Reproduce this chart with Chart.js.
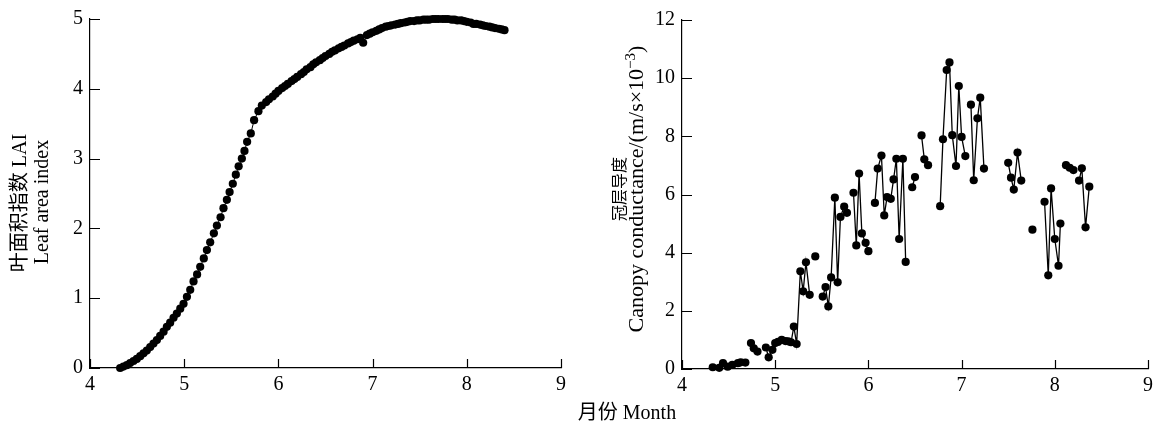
<!DOCTYPE html>
<html>
<head>
<meta charset="utf-8">
<script src="https://cdn.jsdelivr.net/npm/chart.js@4.4.1/dist/chart.umd.min.js"></script>
<style>
  html, body { margin: 0; padding: 0; background: #fff; }
  #wrap { position: relative; width: 1158px; height: 427px; overflow: hidden; }
  #laiChart { position: absolute; left: 0; top: 0; }
  #condChart { position: absolute; left: 590px; top: 0; }
  #monthTitle {
    position: absolute; left: 527px; top: 396px; width: 200px; text-align: center;
    font: 20px 'Liberation Serif', 'Noto Sans CJK SC', serif; color: #000;
  }
</style>
</head>
<body>
<div id="wrap">
  <canvas id="laiChart" width="590" height="427"></canvas>
  <canvas id="condChart" width="568" height="427"></canvas>
  <div id="monthTitle">月份 Month</div>
</div>
<script>
// x axis ticks (month), shared by both panels
const monthTicks = [4, 5, 6, 7, 8, 9];
const laiTicks = [0, 1, 2, 3, 4, 5];
const condTicks = [0, 2, 4, 6, 8, 10, 12];

// leaf area index, daily
const laiMonth = [
  4.32, 4.355, 4.391, 4.426, 4.462, 4.497, 4.533, 4.568, 4.603, 4.639,
  4.674, 4.71, 4.745, 4.781, 4.816, 4.851, 4.887, 4.922, 4.958, 4.993,
  5.029, 5.064, 5.099, 5.137, 5.17, 5.208, 5.241, 5.276, 5.315, 5.347,
  5.386, 5.417, 5.453, 5.482, 5.516, 5.548, 5.578, 5.612, 5.64, 5.668,
  5.707, 5.742, 5.788, 5.824,
  5.87, 5.90, 5.94, 5.97, 6.00, 6.04, 6.07, 6.10, 6.14, 6.17,
  6.20, 6.24, 6.27, 6.30, 6.34, 6.37, 6.40, 6.44, 6.47, 6.50,
  6.54, 6.57, 6.60, 6.64, 6.67, 6.70, 6.74, 6.77, 6.80, 6.84,
  6.87, 6.90, 6.94, 6.97, 7.00, 7.04, 7.07, 7.10, 7.14, 7.17,
  7.20, 7.24, 7.27, 7.30, 7.34, 7.37, 7.40, 7.44, 7.47, 7.50,
  7.54, 7.57, 7.60, 7.64, 7.67, 7.70, 7.74, 7.77, 7.80, 7.84,
  7.87, 7.90, 7.94, 7.97, 8.00, 8.04, 8.07, 8.10, 8.14, 8.17,
  8.20, 8.24, 8.27, 8.30, 8.34, 8.37, 8.40
];
const laiValue = [
  0.00, 0.02, 0.04, 0.07, 0.10, 0.13, 0.17, 0.21, 0.25, 0.30,
  0.35, 0.40, 0.46, 0.52, 0.59, 0.65, 0.72, 0.78, 0.85, 0.92,
  1.02, 1.12, 1.24, 1.34, 1.45, 1.57, 1.69, 1.80, 1.93, 2.04,
  2.16, 2.29, 2.41, 2.52, 2.64, 2.77, 2.89, 3.00, 3.11, 3.24,
  3.36, 3.55, 3.68, 3.76,
  3.81, 3.85, 3.89, 3.93, 3.97, 4.01, 4.04, 4.07, 4.11, 4.14,
  4.17, 4.21, 4.24, 4.28, 4.31, 4.35, 4.38, 4.41, 4.44, 4.47,
  4.50, 4.53, 4.55, 4.58, 4.60, 4.62, 4.65, 4.67, 4.69, 4.71,
  4.73, 4.66, 4.77, 4.79, 4.81, 4.83, 4.85, 4.87, 4.89, 4.90,
  4.91, 4.92, 4.93, 4.94, 4.95, 4.96, 4.97, 4.97, 4.98, 4.98,
  4.99, 4.99, 4.99, 5.00, 5.00, 5.00, 5.00, 5.00, 5.00, 4.99,
  4.99, 4.98, 4.98, 4.97, 4.96, 4.95, 4.93, 4.93, 4.92, 4.91,
  4.90, 4.89, 4.88, 4.87, 4.86, 4.85, 4.84
];

// canopy conductance (m/s x 10^-3); each inner array is a run of consecutive days
const condMonth = [
  [4.33, 4.40, 4.44, 4.49, 4.54, 4.60, 4.63, 4.68],
  [4.74, 4.77, 4.81],
  [4.90, 4.93, 4.97, 5.00, 5.03, 5.07, 5.11, 5.14, 5.17, 5.20, 5.23, 5.27, 5.30, 5.33, 5.37],
  [5.43],
  [5.51, 5.54, 5.57, 5.60, 5.64, 5.67, 5.70, 5.74, 5.77],
  [5.84, 5.87, 5.90, 5.93, 5.97, 6.00],
  [6.07, 6.10, 6.14, 6.17, 6.20, 6.24, 6.27, 6.30, 6.33, 6.37, 6.40],
  [6.47, 6.50],
  [6.57, 6.60, 6.64],
  [6.77, 6.80, 6.84, 6.87, 6.90, 6.94, 6.97, 7.00, 7.04],
  [7.10, 7.13, 7.17, 7.20, 7.24],
  [7.50, 7.53, 7.56, 7.60, 7.64],
  [7.76],
  [7.89, 7.93, 7.96, 8.00, 8.04, 8.06],
  [8.12, 8.16, 8.20],
  [8.26, 8.29, 8.33, 8.37]
];
const condValue = [
  [0.06, 0.04, 0.20, 0.08, 0.14, 0.20, 0.23, 0.22],
  [0.89, 0.71, 0.60],
  [0.74, 0.40, 0.66, 0.89, 0.93, 1.00, 0.96, 0.95, 0.92, 1.46, 0.86, 3.36, 2.67, 3.67, 2.55],
  [3.87],
  [2.49, 2.82, 2.15, 3.15, 5.89, 2.98, 5.23, 5.58, 5.37],
  [6.06, 4.25, 6.72, 4.66, 4.34, 4.05],
  [5.71, 6.89, 7.34, 5.28, 5.91, 5.85, 6.52, 7.23, 4.47, 7.23, 3.68],
  [6.25, 6.60],
  [8.03, 7.21, 7.01],
  [5.60, 7.90, 10.28, 10.54, 8.04, 6.98, 9.73, 7.98, 7.32],
  [9.09, 6.49, 8.62, 9.33, 6.89],
  [7.09, 6.58, 6.17, 7.44, 6.48],
  [4.79],
  [5.75, 3.22, 6.21, 4.47, 3.55, 5.00],
  [7.01, 6.92, 6.84],
  [6.48, 6.90, 4.87, 6.27]
];

const FAMILY = "'Liberation Serif', 'Noto Sans CJK SC', serif";
Chart.defaults.font.family = FAMILY;
Chart.defaults.color = '#000';

// tick marks pointing into the plot area
const inwardTicks = {
  id: 'inwardTicks',
  beforeDatasetsDraw(chart) {
    const { ctx, chartArea, scales } = chart;
    ctx.save();
    ctx.strokeStyle = '#000';
    ctx.lineWidth = 1.2;
    ctx.beginPath();
    scales.x.ticks.forEach(t => {
      const px = Math.round(scales.x.getPixelForValue(t.value)) + 0.5;
      ctx.moveTo(px, chartArea.bottom);
      ctx.lineTo(px, chartArea.bottom - 9);
    });
    scales.y.ticks.forEach(t => {
      const py = Math.round(scales.y.getPixelForValue(t.value)) + 0.5;
      ctx.moveTo(chartArea.left, py);
      ctx.lineTo(chartArea.left + 10, py);
    });
    ctx.stroke();
    ctx.restore();
  }
};

// rotated y-axis title, parts = [{text, size, rise}]
function drawVertical(ctx, parts, cx, cy) {
  ctx.save();
  ctx.translate(cx, cy);
  ctx.rotate(-Math.PI / 2);
  ctx.fillStyle = '#000';
  ctx.textBaseline = 'middle';
  ctx.textAlign = 'left';
  let total = 0;
  parts.forEach(p => {
    ctx.font = p.size + 'px ' + FAMILY;
    p.w = ctx.measureText(p.text).width;
    total += p.w;
  });
  let x = -total / 2;
  parts.forEach(p => {
    ctx.font = p.size + 'px ' + FAMILY;
    ctx.fillText(p.text, x, -(p.rise || 0));
    x += p.w;
  });
  ctx.restore();
}

function axisTitles(id, lines) {
  return {
    id: id,
    afterDraw(chart) {
      lines.forEach(l => drawVertical(chart.ctx, l.parts, l.x, l.y));
    }
  };
}

function scaleOpts(min, max, tickList, fitWidth, fitHeight) {
  return {
    x: {
      type: 'linear', min: 4, max: 9,
      afterBuildTicks: s => { s.ticks = monthTicks.map(v => ({ value: v })); },
      afterFit: s => { s.height = fitHeight; },
      grid: { display: false, drawTicks: false },
      border: { display: true, color: '#000', width: 1.2 },
      ticks: { font: { size: 20 }, padding: 5, color: '#000' }
    },
    y: {
      type: 'linear', min: min, max: max,
      afterBuildTicks: s => { s.ticks = tickList.map(v => ({ value: v })); },
      afterFit: s => { s.width = fitWidth; },
      grid: { display: false, drawTicks: false },
      border: { display: true, color: '#000', width: 1.2 },
      ticks: { font: { size: 20 }, padding: 7, color: '#000' }
    }
  };
}

const laiPoints = laiMonth.map((m, i) => ({ x: m, y: laiValue[i] }));

new Chart(document.getElementById('laiChart'), {
  type: 'line',
  data: {
    datasets: [{
      data: laiPoints,
      borderColor: '#000',
      borderWidth: 1,
      pointRadius: 4.1,
      pointBorderWidth: 0,
      pointBackgroundColor: '#000',
      clip: false
    }]
  },
  options: {
    responsive: false,
    animation: false,
    layout: { padding: { left: 0, right: 29, top: 18, bottom: 0 } },
    plugins: { legend: { display: false }, tooltip: { enabled: false } },
    scales: scaleOpts(0, 5, laiTicks, 90, 59)
  },
  plugins: [inwardTicks, axisTitles('laiTitle', [
    { x: 21, y: 203, parts: [{ text: '叶面积指数 LAI', size: 20 }] },
    { x: 43, y: 202, parts: [{ text: 'Leaf area index', size: 20 }] }
  ])]
});

// flatten the runs, a null value between runs breaks the line
const condPoints = [];
condMonth.forEach((run, r) => {
  if (r > 0) condPoints.push({ x: run[0], y: null });
  run.forEach((m, i) => condPoints.push({ x: m, y: condValue[r][i] }));
});

new Chart(document.getElementById('condChart'), {
  type: 'line',
  data: {
    datasets: [{
      data: condPoints,
      borderColor: '#000',
      borderWidth: 1.3,
      pointRadius: 4.1,
      pointBorderWidth: 0,
      pointBackgroundColor: '#000',
      spanGaps: false,
      clip: false
    }]
  },
  options: {
    responsive: false,
    animation: false,
    layout: { padding: { left: 0, right: 6, top: 20, bottom: 0 } },
    plugins: { legend: { display: false }, tooltip: { enabled: false } },
    scales: scaleOpts(0, 12, condTicks, 92, 58)
  },
  plugins: [inwardTicks, axisTitles('condTitle', [
    { x: 31, y: 189, parts: [{ text: '冠层导度', size: 16 }] },
    { x: 47, y: 189, parts: [
      { text: 'Canopy conductance/(m/s×10', size: 22 },
      { text: '−3', size: 15, rise: 6 },
      { text: ')', size: 22 }
    ] }
  ])]
});
</script>
</body>
</html>
